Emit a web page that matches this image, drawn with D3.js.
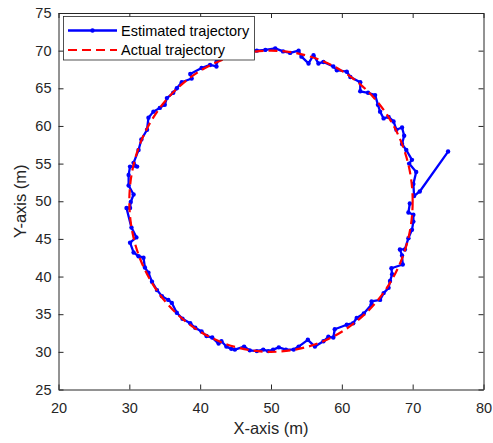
<!DOCTYPE html>
<html>
<head>
<meta charset="utf-8">
<script src="https://cdn.jsdelivr.net/npm/d3@7"></script>
<style>
  body { margin: 0; background: #fff; }
  svg { font-family: "Liberation Sans", Arial, sans-serif; }
</style>
</head>
<body>
<svg id="chart"></svg>
<script>
// estimated trajectory (m)
const estX = [75.0, 71.0, 70.2, 70.1, 70.5, 69.5, 69.9, 69.1, 68.5, 68.8, 68.5, 67.7, 67.3, 66.6, 65.9, 65.4, 65.1,
  64.7, 63.7, 62.6, 62.6, 61.2, 60.7, 59.3, 58.8, 57.4, 56.7, 56.0, 55.3, 54.3, 53.9, 52.7, 51.7, 50.6, 49.2,
  48.0, 46.8, 45.6, 44.5, 43.4, 42.3, 42.3, 41.4, 40.2, 38.6, 38.8, 37.4, 36.7, 36.2, 35.3, 35.0, 34.3, 33.4,
  32.7, 32.5, 31.7, 31.3, 30.6, 31.1, 30.1, 29.9, 29.9, 30.6, 30.2, 30.1, 29.6, 30.3, 31.0, 30.1, 30.6, 31.3,
  32.0, 32.2, 32.7, 33.2, 33.9, 34.6, 35.5, 36.0, 36.7, 37.5, 38.6, 39.3, 40.2, 40.9, 41.7, 42.6, 43.0, 43.7,
  44.4, 44.9, 46.2, 47.0, 48.0, 48.9, 49.6, 50.3, 51.1, 52.1, 53.2, 53.9, 55.2, 56.2, 57.4, 58.1, 58.8, 59.0,
  60.7, 61.6, 62.1, 63.1, 64.2, 64.2, 65.4, 65.9, 66.6, 66.8, 67.1, 67.0, 68.6, 68.5, 68.2, 68.9, 69.4, 69.9,
  70.1, 70.1, 69.4, 69.6];
const estY = [56.6, 51.3, 50.7, 52.3, 53.9, 55.0, 55.5, 56.8, 57.6, 58.7, 59.8, 59.5, 60.6, 61.2, 61.0, 61.9, 62.8,
  64.1, 64.4, 64.6, 65.8, 66.5, 67.2, 67.4, 67.9, 68.5, 68.3, 69.4, 68.3, 69.2, 70.0, 69.7, 69.9, 70.3, 70.1,
  70.0, 70.0, 69.8, 69.6, 69.3, 68.5, 67.9, 68.1, 67.7, 66.9, 66.3, 65.8, 65.0, 64.4, 63.7, 62.8, 62.4, 61.9,
  61.1, 59.5, 58.2, 56.8, 55.1, 54.6, 54.6, 53.5, 52.1, 50.9, 49.9, 49.1, 49.1, 46.5, 45.2, 44.5, 43.2, 42.7,
  42.5, 41.2, 40.5, 39.3, 38.2, 37.4, 36.9, 36.5, 35.2, 34.4, 33.8, 33.2, 32.7, 32.1, 31.9, 31.1, 31.4, 30.7,
  30.4, 30.3, 30.7, 30.2, 30.1, 30.3, 30.1, 30.3, 30.6, 30.3, 30.3, 30.7, 31.6, 30.7, 31.4, 32.0, 31.9, 33.0,
  33.6, 33.8, 34.5, 35.1, 36.3, 36.7, 36.9, 37.8, 38.5, 39.4, 40.3, 41.1, 41.6, 42.8, 43.6, 43.6, 45.1, 46.2,
  47.3, 48.2, 48.5, 49.7];

// actual trajectory: circle
const actualCenter = [50, 50];
const actualRadius = 20;

const xTicks = [20, 30, 40, 50, 60, 70, 80];
const yTicks = [25, 30, 35, 40, 45, 50, 55, 60, 65, 70, 75];
const seriesNames = ["Estimated trajectory", "Actual trajectory"];

const W = 493, H = 443;
const mLeft = 58.5, mRight = 483.5, mTop = 13, mBottom = 389.5;
const axisColor = "#262626";

const svg = d3.select("#chart").attr("width", W).attr("height", H);

const x = d3.scaleLinear().domain([20, 80]).range([mLeft, mRight]);
const y = d3.scaleLinear().domain([25, 75]).range([mBottom, mTop]);

// clip to plot area
svg.append("clipPath").attr("id", "clip")
  .append("rect")
  .attr("x", mLeft).attr("y", mTop)
  .attr("width", mRight - mLeft).attr("height", mBottom - mTop);

const plot = svg.append("g").attr("clip-path", "url(#clip)");

const pts = estX.map(function(d, i) { return [d, estY[i]]; });

const line = d3.line()
  .x(function(d) { return x(d[0]); })
  .y(function(d) { return y(d[1]); });

plot.append("path")
  .datum(pts)
  .attr("d", line)
  .attr("fill", "none")
  .attr("stroke", "#0000ff")
  .attr("stroke-width", 2.3)
  .attr("stroke-linejoin", "round");

plot.selectAll("circle.mk")
  .data(pts)
  .enter()
  .append("circle")
  .attr("class", "mk")
  .attr("cx", function(d) { return x(d[0]); })
  .attr("cy", function(d) { return y(d[1]); })
  .attr("r", 2.2)
  .attr("fill", "#0000ff");

plot.append("ellipse")
  .attr("cx", x(actualCenter[0]))
  .attr("cy", y(actualCenter[1]))
  .attr("rx", x(actualCenter[0] + actualRadius) - x(actualCenter[0]))
  .attr("ry", y(actualCenter[1] - actualRadius) - y(actualCenter[1]))
  .attr("fill", "none")
  .attr("stroke", "#ff0000")
  .attr("stroke-width", 2.2)
  .attr("stroke-dasharray", "9,5");

// axes
function styleAxis(g) {
  g.select(".domain").attr("stroke", axisColor);
  g.selectAll(".tick line").attr("stroke", axisColor);
  g.selectAll(".tick text").attr("fill", axisColor).style("font-size", "14.5px");
}

svg.append("g")
  .attr("transform", "translate(0," + mBottom + ")")
  .call(d3.axisBottom(x).tickValues(xTicks).tickSize(-5).tickSizeOuter(0).tickPadding(13))
  .call(styleAxis);

svg.append("g")
  .attr("transform", "translate(0," + mTop + ")")
  .call(d3.axisTop(x).tickValues(xTicks).tickSize(-5).tickSizeOuter(0).tickFormat(""))
  .call(styleAxis);

svg.append("g")
  .attr("transform", "translate(" + mLeft + ",0)")
  .call(d3.axisLeft(y).tickValues(yTicks).tickSize(-5).tickSizeOuter(0).tickPadding(7))
  .call(styleAxis);

svg.append("g")
  .attr("transform", "translate(" + mRight + ",0)")
  .call(d3.axisRight(y).tickValues(yTicks).tickSize(-5).tickSizeOuter(0).tickFormat(""))
  .call(styleAxis);

svg.selectAll(".domain").attr("stroke-width", 1);

// axis labels
svg.append("text")
  .attr("x", (mLeft + mRight) / 2)
  .attr("y", 434)
  .attr("text-anchor", "middle")
  .attr("fill", axisColor)
  .style("font-size", "16.5px")
  .text("X-axis (m)");

svg.append("text")
  .attr("transform", "translate(26," + (mTop + mBottom) / 2 + ") rotate(-90)")
  .attr("text-anchor", "middle")
  .attr("fill", axisColor)
  .style("font-size", "16.5px")
  .text("Y-axis (m)");

// legend
const lg = svg.append("g");
lg.append("rect")
  .attr("x", 63.5).attr("y", 16.5)
  .attr("width", 191).attr("height", 43.5)
  .attr("fill", "#fff")
  .attr("stroke", axisColor)
  .attr("stroke-width", 0.8);

lg.append("line")
  .attr("x1", 68).attr("x2", 117).attr("y1", 30.5).attr("y2", 30.5)
  .attr("stroke", "#0000ff").attr("stroke-width", 2.3);
lg.append("circle")
  .attr("cx", 92.5).attr("cy", 30.5).attr("r", 2.2).attr("fill", "#0000ff");
lg.append("line")
  .attr("x1", 68).attr("x2", 117).attr("y1", 50).attr("y2", 50)
  .attr("stroke", "#ff0000").attr("stroke-width", 2.2)
  .attr("stroke-dasharray", "9,5");

lg.selectAll("text")
  .data(seriesNames)
  .enter()
  .append("text")
  .attr("x", 121)
  .attr("y", function(d, i) { return 35.5 + i * 19.5; })
  .attr("fill", "#000")
  .style("font-size", "14.5px")
  .text(function(d) { return d; });
</script>
</body>
</html>
